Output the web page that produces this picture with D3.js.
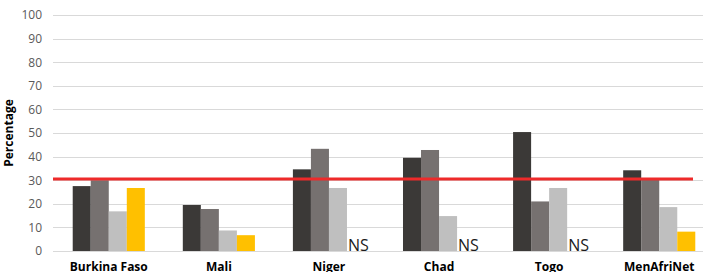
<!DOCTYPE html>
<html>
<head>
<meta charset="utf-8">
<script src="https://cdn.jsdelivr.net/npm/d3@7"></script>
<style>
  body { margin: 0; background: #fff; }
  svg { display: block; font-family: "Open Sans", "Liberation Sans", sans-serif; }
</style>
</head>
<body>
<div id="chart"></div>
<script>
// frame constants
const FRAME_WIDTH = 711;
const FRAME_HEIGHT = 272;
const MARGINS = {left: 54, right: -3, top: 15, bottom: 21};
const GRID_END = 703;

// data
const CATEGORIES = ["Burkina Faso", "Mali", "Niger", "Chad", "Togo", "MenAfriNet"];
const SERIES = ["s1", "s2", "s3", "s4"];
const SERIES_1 = [27.5, 19.5, 34.6, 39.5, 50.4, 34.2];
const SERIES_2 = [30, 17.8, 43.3, 42.8, 21, 30.4];
const SERIES_3 = [16.8, 8.7, 26.7, 14.8, 26.7, 18.6];
const SERIES_4 = [26.7, 6.7, null, null, null, 8.2];
const Y_TICKS = [0, 10, 20, 30, 40, 50, 60, 70, 80, 90, 100];
const THRESHOLD = 30.5;
const COLORS = ["#3b3937", "#767170", "#bfbfbf", "#ffc000"];

const ALL = [SERIES_1, SERIES_2, SERIES_3, SERIES_4];

const FRAME = d3.select("#chart")
  .append("svg")
    .attr("width", FRAME_WIDTH)
    .attr("height", FRAME_HEIGHT);

const Y_SCALE = d3.scaleLinear()
  .domain([0, 100])
  .range([FRAME_HEIGHT - MARGINS.bottom, MARGINS.top]);

const X_SCALE = d3.scaleBand()
  .domain(CATEGORIES)
  .range([MARGINS.left, FRAME_WIDTH - MARGINS.right])
  .paddingInner(0.345)
  .paddingOuter(0.17);

const SUB_SCALE = d3.scaleBand()
  .domain(SERIES)
  .range([0, X_SCALE.bandwidth()]);

// gridlines
FRAME.append("g")
  .selectAll("line")
  .data(Y_TICKS)
  .enter()
  .append("line")
    .attr("x1", MARGINS.left - 1)
    .attr("x2", GRID_END)
    .attr("y1", (d) => Math.round(Y_SCALE(d)) + 0.5)
    .attr("y2", (d) => Math.round(Y_SCALE(d)) + 0.5)
    .attr("stroke", "#d9d9d9")
    .attr("stroke-width", 1);

// y axis labels
const yAxis = FRAME.append("g")
  .attr("transform", "translate(" + (MARGINS.left - 12) + ",0)")
  .call(d3.axisLeft(Y_SCALE).tickValues(Y_TICKS).tickSize(0).tickPadding(0));
yAxis.select(".domain").remove();
yAxis.selectAll("text")
  .attr("font-size", "12px")
  .attr("fill", "#595959")
  .attr("font-family", "Open Sans, sans-serif");

// y axis title
FRAME.append("text")
  .attr("transform", "translate(13," + Y_SCALE(50) + ") rotate(-90)")
  .attr("text-anchor", "middle")
  .attr("font-size", "12px")
  .attr("font-weight", "bold")
  .attr("fill", "#000")
  .text("Percentage");

// bars
CATEGORIES.forEach((cat, i) => {
  const g = FRAME.append("g").attr("transform", "translate(" + X_SCALE(cat) + ",0)");
  SERIES.forEach((s, j) => {
    const v = ALL[j][i];
    if (v === null) {
      g.append("text")
        .attr("x", SUB_SCALE(s) + 1)
        .attr("y", Y_SCALE(0))
        .attr("font-size", "16px")
        .attr("fill", "#1a1a1a")
        .text("NS");
      return;
    }
    g.append("rect")
      .attr("x", SUB_SCALE(s))
      .attr("y", Y_SCALE(v))
      .attr("width", SUB_SCALE.bandwidth())
      .attr("height", Y_SCALE(0) - Y_SCALE(v))
      .attr("fill", COLORS[j]);
  });
});

// x axis labels
const xAxis = FRAME.append("g")
  .attr("transform", "translate(0," + (Y_SCALE(0) + 11) + ")")
  .call(d3.axisBottom(X_SCALE).tickSize(0).tickPadding(0));
xAxis.select(".domain").remove();
xAxis.selectAll("text")
  .attr("font-size", "12px")
  .attr("font-weight", "bold")
  .attr("fill", "#000")
  .attr("font-family", "Open Sans, sans-serif");

// threshold line
FRAME.append("line")
  .attr("x1", MARGINS.left - 1)
  .attr("x2", 693)
  .attr("y1", Y_SCALE(THRESHOLD))
  .attr("y2", Y_SCALE(THRESHOLD))
  .attr("stroke", "#ee2a2a")
  .attr("stroke-width", 3);
</script>
</body>
</html>
